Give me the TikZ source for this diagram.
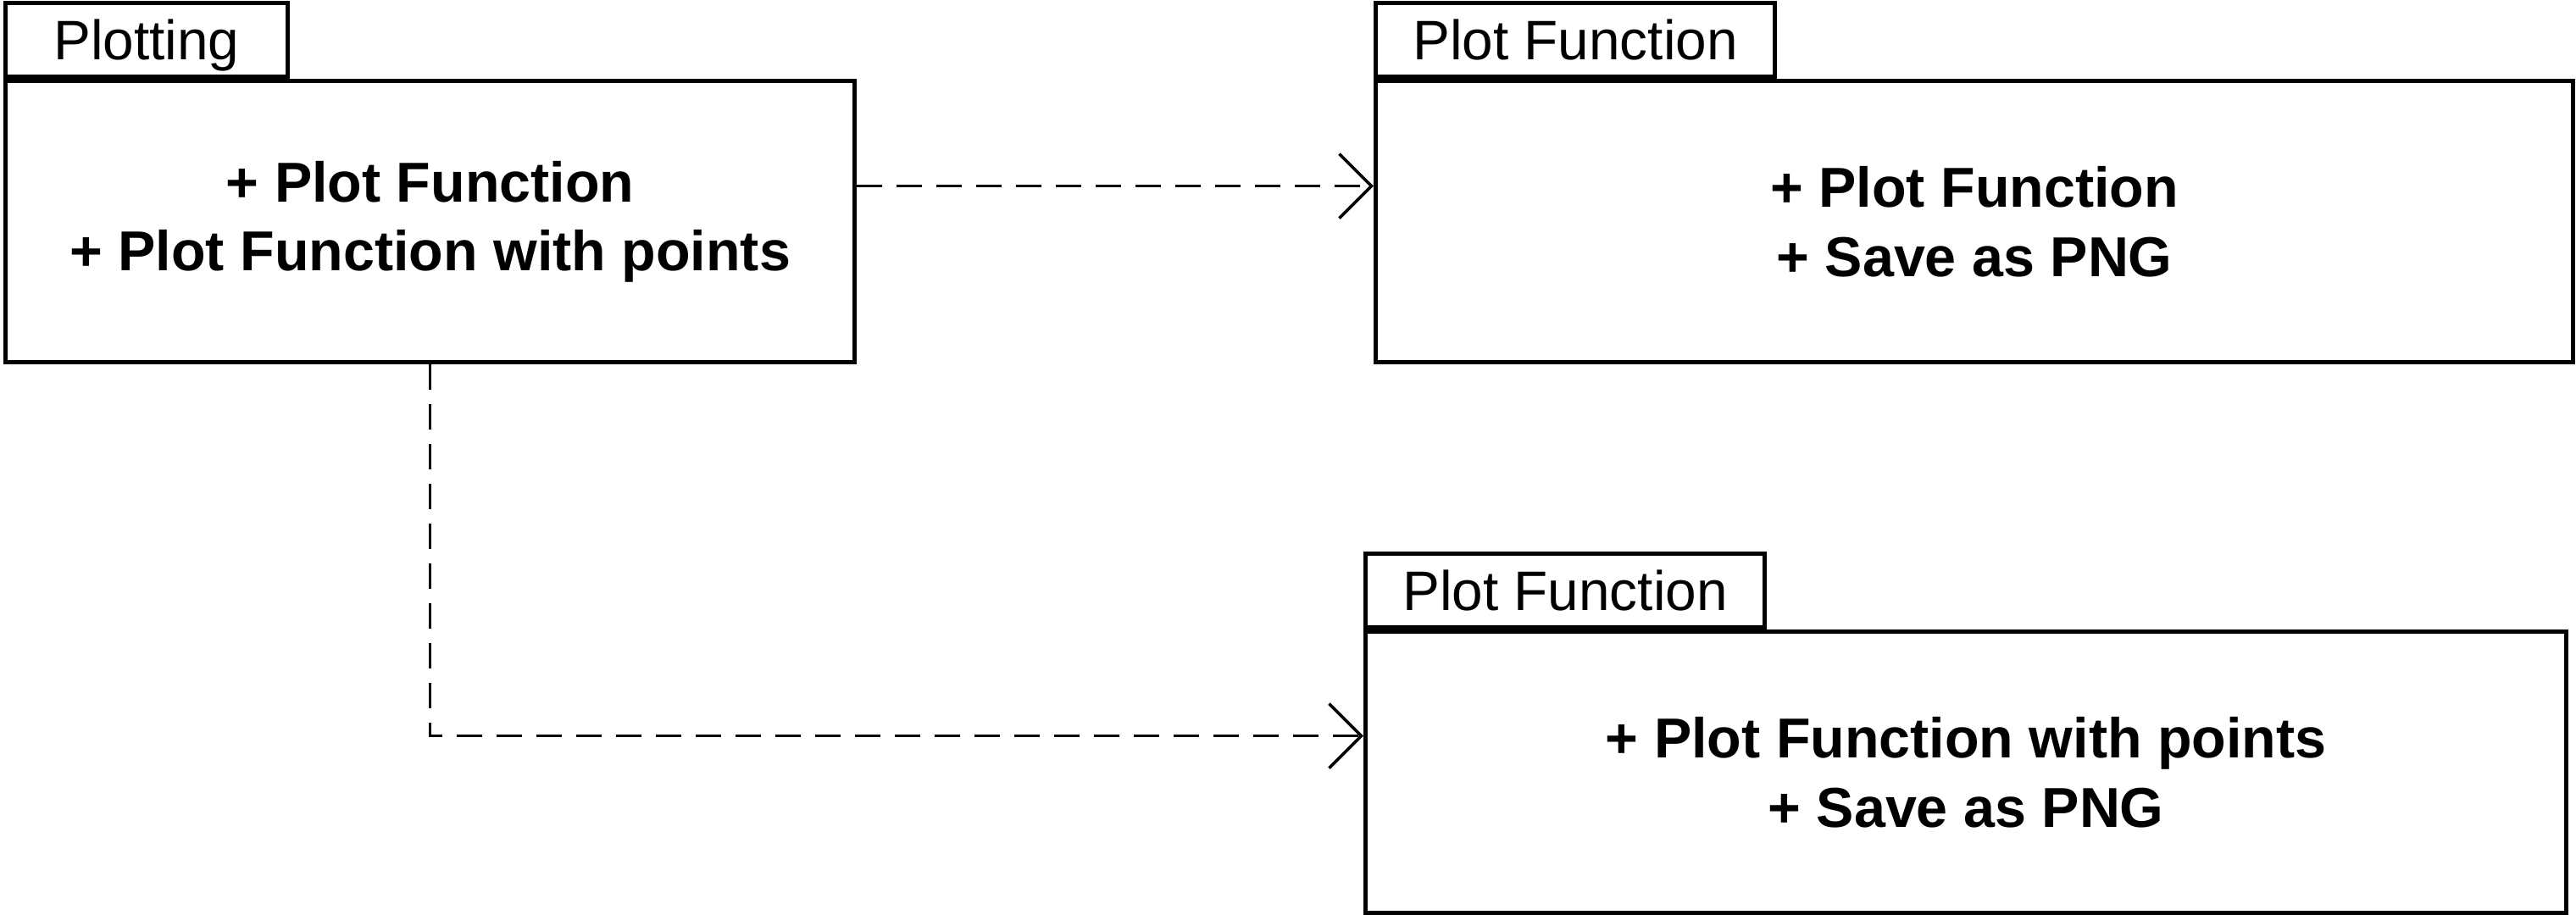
\documentclass[tikz,border=0pt]{standalone}
\usepackage{fontspec}
\setmainfont{Liberation Sans}
\usetikzlibrary{arrows.meta,calc}
\newcommand{\drawpackage}[7]
{\node[pkgbody,minimum width=#4cm,anchor=north west] (#1) at (#2,#3) {#7};
\node[pkgtab,minimum width=#5cm,anchor=south west] (#1tab) at (#1.north west) {#6};
}
\begin{document}
\begin{tikzpicture}[>={Straight Barb[length=3.8mm,width=7.6mm]},
	pkgbody/.style={draw,line width=1.5pt,minimum height=3.32cm,align=center,inner sep=0pt,
		font=\fontsize{18.9}{23.2}\selectfont\bfseries},
	pkgtab/.style={draw,line width=1.4pt,minimum height=0.87cm,inner sep=0pt,
		text height=0.6cm,text depth=0.14cm,font=\fontsize{18.7}{22}\selectfont},
	dep/.style={dash pattern=on 3mm off 1.7mm,line width=1pt,->}]
	\useasboundingbox (0,0) rectangle (30.4,-10.8);
	\drawpackage{plotting}{0.04}{-0.93}{10.02}{3.33}{Plotting}{+ Plot Function\\+ Plot Function with points};
	\drawpackage{plotfn}{16.21}{-0.93}{14.13}{4.71}{Plot Function}{+ Plot Function\\+ Save as PNG};
	\drawpackage{plotpts}{16.09}{-7.43}{14.17}{4.71}{Plot Function}{+ Plot Function with points\\+ Save as PNG};
	\draw [dep] ([yshift=4.2mm]plotting.east) -- ([yshift=4.2mm]plotfn.west);
	\draw [dep] (plotting.south) |- ([yshift=4.3mm]plotpts.west);
\end{tikzpicture}
\end{document}
